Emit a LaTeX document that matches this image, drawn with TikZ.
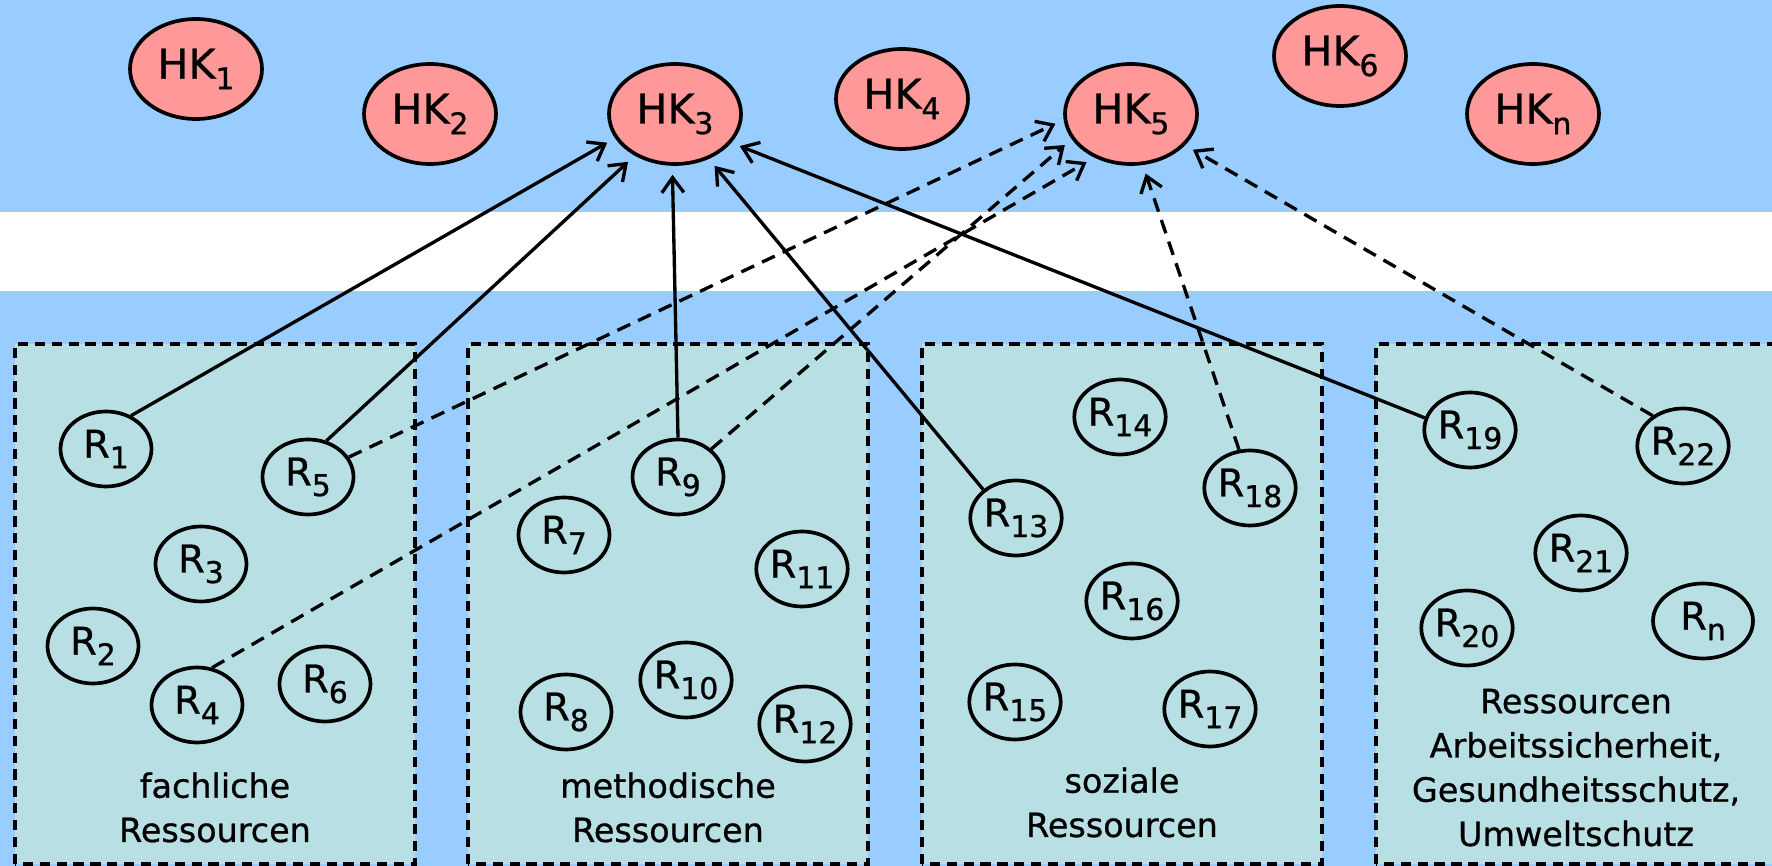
\documentclass[tikz,border=0pt]{standalone}
\usepackage{fontspec}
\setmainfont{DejaVu Sans}[FakeBold=0.8]
\usetikzlibrary{arrows.meta,shapes.geometric}
\definecolor{skyband}{HTML}{99CCFF}
\definecolor{hkred}{HTML}{FF9999}
\definecolor{boxteal}{HTML}{B8E0E4}
\newcommand{\ix}[1]{\raisebox{-3pt}{\fontsize{8.5}{8.5}\selectfont #1}}

\begin{document}
\begin{tikzpicture}[
    every node/.style={font=\fontsize{10.9}{12}\selectfont},
    hk/.style={ellipse, draw, fill=hkred, line width=1.05pt, inner sep=0pt,
        minimum width=1.32cm, minimum height=1.0cm, font=\fontsize{11.7}{13}\selectfont},
    res/.style={ellipse, draw, line width=1.05pt, inner sep=0pt,
        minimum width=0.91cm, minimum height=0.75cm},
    group/.style={draw, fill=boxteal, line width=1.05pt, dash pattern=on 2.9pt off 1.9pt},
    grouplabel/.style={align=center, anchor=base, font=\fontsize{9.5}{12.6}\selectfont},
    link/.style={-{Straight Barb[length=1.5mm,width=2.2mm]}, line width=0.95pt, shorten >=0.9mm},
    weaklink/.style={link, dash pattern=on 4pt off 2.5pt},
]
\useasboundingbox (0,0) rectangle (17.72,8.66);

% Background bands
\fill[skyband] (0,0) rectangle (17.72,8.66);
\fill[white] (0,5.75) rectangle (17.72,6.54);

% Resource groups
\foreach \x in {0.15,4.68,9.22,13.76} {
    \draw[group] (\x,0.02) rectangle ++(4,5.20);
}
\node[grouplabel] (fachlich) at (2.15,0.24) {fachliche\\Ressourcen};
\node[grouplabel] (methodisch) at (6.68,0.24) {methodische\\Ressourcen};
\node[grouplabel] (sozial) at (11.22,0.29) {soziale\\Ressourcen};
\node[grouplabel] (schutz) at (15.76,0.20) {Ressourcen\\Arbeitssicherheit,\\Gesundheitsschutz,\\Umweltschutz};

% Handlungskompetenzen
\foreach \n/\x/\y in {1/1.96/7.97, 2/4.30/7.52, 3/6.75/7.52, 4/9.02/7.67,
                      5/11.31/7.52, 6/13.40/8.10, n/15.33/7.52} {
    \node[hk] (HK\n) at (\x,\y) {HK\ix{\n}};
}

% Ressourcen
\foreach \n/\x/\y in {1/1.06/4.17, 2/0.93/2.20, 3/2.01/3.02, 4/1.97/1.61,
                      5/3.08/3.89, 6/3.25/1.82, 7/5.64/3.31, 8/5.66/1.54,
                      9/6.78/3.89, 10/6.86/1.86, 11/8.02/2.97, 12/8.05/1.42,
                      13/10.16/3.48, 14/11.20/4.49, 15/10.15/1.64, 16/11.32/2.65,
                      17/12.10/1.57, 18/12.50/3.78, 19/14.70/4.36, 20/14.67/2.38,
                      21/15.81/3.13, 22/16.83/4.20} {
    \node[res] (R\n) at (\x,\y) {R\ix{\n}};
}
\node[res, minimum width=1.0cm] (Rn) at (17.03,2.45) {R\ix{n}};

% Links to HK3
\draw[link] (R1.53) -- (HK3.202);
\draw[link] (R5.63) -- (HK3.226);
\draw[link] (R9.90) -- (HK3.267);
\draw[link] (R13.139) -- (HK3.307);
\draw[link] (R19.165) -- (HK3.333);

% Links to HK5
\draw[weaklink] (R5.26) -- (HK5.185);
\draw[weaklink] (R9.40) -- (HK5.203);
\draw[weaklink] (R4.68) -- (HK5.230);
\draw[weaklink] (R18.106) -- (HK5.283);
\draw[weaklink] (R22.135) -- (HK5.330);

\end{tikzpicture}
\end{document}
